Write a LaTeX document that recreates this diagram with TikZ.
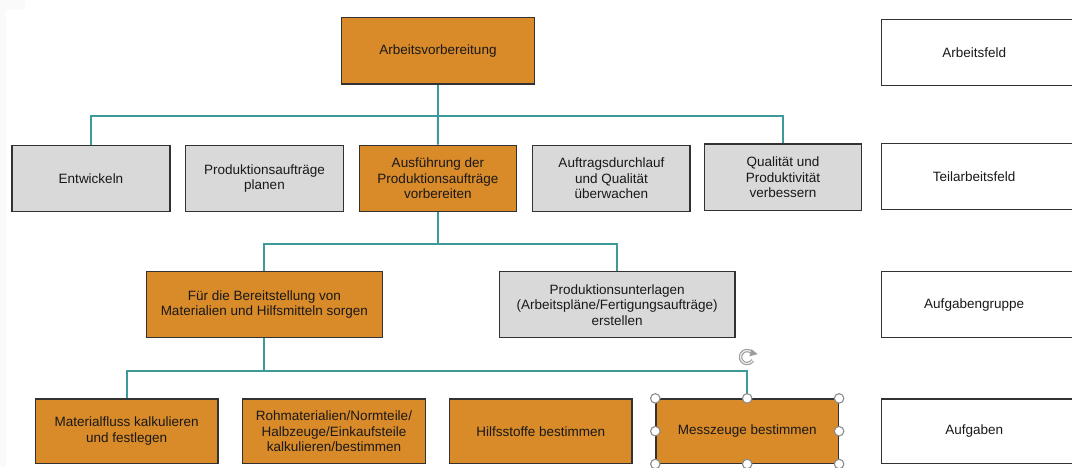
\documentclass[tikz,border=0pt]{standalone}
\usepackage{fontspec}
\setmainfont{Liberation Sans}
\usetikzlibrary{arrows.meta}
\definecolor{orng}{RGB}{217,138,41}
\definecolor{lgray}{RGB}{217,217,217}
\definecolor{bord}{RGB}{50,50,50}
\definecolor{teal2}{RGB}{62,154,152}
\definecolor{txt}{RGB}{25,25,25}
\definecolor{hndl}{RGB}{140,140,140}
\tikzset{
  box/.style={draw=bord, line width=1.3pt, align=center, text=txt,
    font=\fontsize{13.5}{15.5}\selectfont, inner sep=2pt},
  obox/.style={box, fill=orng},
  gbox/.style={box, fill=lgray},
  wbox/.style={box, fill=white},
  conn/.style={draw=teal2, line width=2pt},
  handle/.style={circle, draw=hndl, fill=white, line width=1.1pt, minimum size=9.5pt, inner sep=0pt}
}
\begin{document}
\begin{tikzpicture}[x=1pt,y=-1pt]
\useasboundingbox (0,0) rectangle (1072,467);
\begin{scope}
\clip (0,0) rectangle (1072,467);
\fill[gray!4] (0,0) rectangle (25,10);
\fill[gray!4] (0,10) rectangle (6,467);
% level 1
\node[obox, minimum width=192.8pt, minimum height=66.5pt] (av) at (438,50.8) {Arbeitsvorbereitung};
% level 2
\node[gbox, minimum width=158pt, minimum height=66.4pt] (ent) at (91,178.5) {Entwickeln};
\node[gbox, minimum width=157.7pt, minimum height=66.4pt] (plan) at (264.5,178.5) {Produktionsaufträge\\planen};
\node[obox, minimum width=157.3pt, minimum height=66.4pt] (ausf) at (437.9,178.5) {Ausführung der\\Produktionsaufträge\\vorbereiten};
\node[gbox, minimum width=157.3pt, minimum height=66.4pt] (auft) at (611.4,178.5) {Auftragsdurchlauf\\und Qualität\\überwachen};
\node[gbox, minimum width=156.7pt, minimum height=66.7pt] (qual) at (783,177.4) {Qualität und\\Produktivität\\verbessern};
% level 3
\node[obox, minimum width=235.9pt, minimum height=66pt] (fuer) at (264.3,304.7) {Für die Bereitstellung von\\Materialien und Hilfsmitteln sorgen};
\node[gbox, minimum width=235.7pt, minimum height=66pt] (prod) at (617.2,304.7) {Produktionsunterlagen\\(Arbeitspläne/Fertigungsaufträge)\\erstellen};
% level 4
\node[obox, minimum width=182.5pt, minimum height=64.3pt] (mat) at (126.7,431.2) {Materialfluss kalkulieren\\und festlegen};
\node[obox, minimum width=182.5pt, minimum height=64.3pt] (roh) at (334,431.2) {Rohmaterialien/Normteile/\\Halbzeuge/Einkaufsteile\\kalkulieren/bestimmen};
\node[obox, minimum width=182.5pt, minimum height=64.3pt] (hilf) at (540.7,431.2) {Hilfsstoffe bestimmen};
\node[obox, minimum width=182.5pt, minimum height=64.3pt] (mess) at (747.2,431.2) {Messzeuge bestimmen};
% legend boxes (cut at right edge)
\node[wbox, minimum width=200pt, minimum height=66.4pt, anchor=west] (af) at (880.5,52.5) {\hspace*{-14pt}Arbeitsfeld};
\node[wbox, minimum width=200pt, minimum height=66pt, anchor=west] (taf) at (880.5,176.3) {\hspace*{-14pt}Teilarbeitsfeld};
\node[wbox, minimum width=200pt, minimum height=66pt, anchor=west] (agr) at (880.5,304.7) {\hspace*{-14pt}Aufgabengruppe};
\node[wbox, minimum width=200pt, minimum height=64.3pt, anchor=west] (ag) at (880.5,431.2) {\hspace*{-14pt}Aufgaben};
% connectors
\coordinate (b1) at (av.south |- 0,116);
\coordinate (b2) at (ausf.south |- 0,244.3);
\coordinate (b3) at (fuer.south |- 0,370.7);
\draw[conn] (av.south) -- (b1);
\draw[conn] (ent.north) |- (b1) -| (qual.north);
\draw[conn] (b1) -- (ausf.north);
\draw[conn] (ausf.south) -- (b2);
\draw[conn] (fuer.north) |- (b2) -| (prod.north);
\draw[conn] (fuer.south) -- (b3);
\draw[conn] (mat.north) |- (b3) -| (mess.north);
% selection handles
\foreach \a in {north west,north,north east,west,east,south west,south,south east}
  \node[handle] at (mess.\a) {};
% rotation icon
\coordinate (rot) at (747,357);
\draw[hndl!85, line width=3.4pt] ([shift={(30:6.5)}]rot) arc[start angle=30, end angle=325, radius=6.5];
\draw[white!85!hndl, line width=1.2pt] ([shift={(30:6.5)}]rot) arc[start angle=30, end angle=325, radius=6.5];
\fill[hndl!85] ([shift={(345:2.5)}]rot) -- ([shift={(345:11)}]rot) -- ([shift={(300:9)}]rot) -- cycle;
\end{scope}
\end{tikzpicture}
\end{document}
